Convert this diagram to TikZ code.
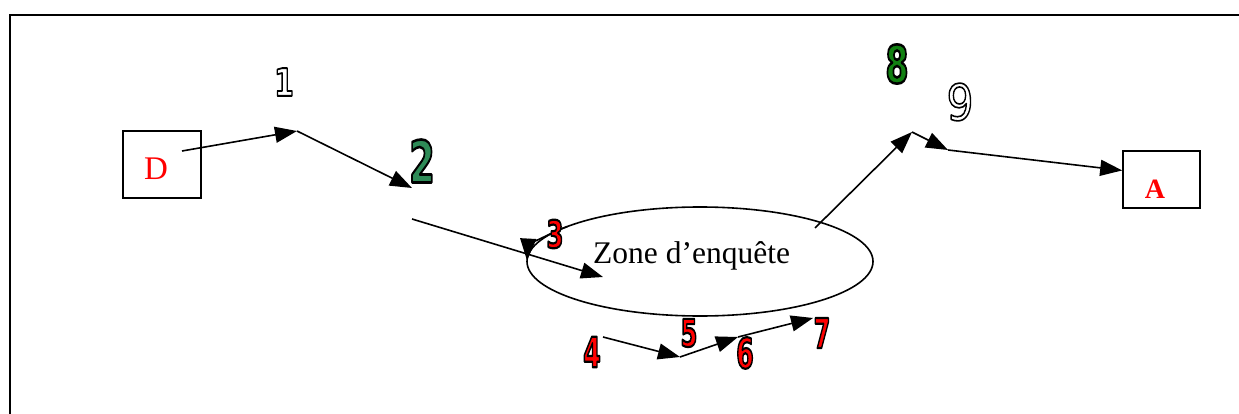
\documentclass[tikz,border=0pt]{standalone}
\usepackage{fontspec}
\setmainfont{Liberation Serif}
\newfontfamily\digfont{DejaVu Sans}
\usepackage{graphicx}
\usetikzlibrary{arrows.meta,shapes.geometric}
\definecolor{sgreen}{HTML}{2E8B57}
\definecolor{dgreen}{HTML}{118011}
% outlined digit: xscale, font size, outline width, text
\newcommand{\odig}[4]{\scalebox{#1}[1]{\fontsize{#2}{#2}\selectfont\special{pdf:code q 2 Tr #3 w 0 0 0 RG 1 j}#4\special{pdf:code Q}}}
\begin{document}
\begin{tikzpicture}[x=1pt,y=-1pt,
  arr/.style={line width=1.6pt, -{Triangle[length=22pt,width=16pt]}},
  boxst/.style={draw, line width=1.6pt, minimum width=78pt, minimum height=67pt, inner sep=0pt},
  bdig/.style={inner sep=0pt, font=\digfont\bfseries},
  ldig/.style={inner sep=0pt, font=\digfont, text=white},
  lbl/.style={inner sep=0pt, text=red}]
\useasboundingbox (0,0) rectangle (1239,414);
\draw[line width=2.8pt, line join=miter] (10,420) -- (10,15) -- (1245,15);

% boxes and ellipse
\node[boxst] (D) at (162,164.5) {};
\node[lbl, font=\fontsize{33}{33}\selectfont] (Dt) at (156,169) {D};
\node[boxst, minimum width=77pt, minimum height=57pt] (A) at (1161.5,179.5) {};
\node[lbl, font=\bfseries\fontsize{28}{28}\selectfont] (At) at (1155,189) {A};
\node[draw, ellipse, line width=1.6pt, minimum width=346pt, minimum height=109pt, inner sep=0pt] (Z) at (700,261.5) {};
\node[inner sep=0pt, anchor=base west, font=\fontsize{31.5}{31.5}\selectfont] (Zt) at (593,263) {Zone d’enquête};

% path points
\coordinate (p0) at (182,151);
\coordinate (p1) at (297,131);
\coordinate (p2) at (412,188);
\coordinate (q0) at (412,219);
\coordinate (q1) at (603,277);
\coordinate (r0) at (603,337);
\coordinate (r1) at (680,357);
\coordinate (r2) at (738,337);
\coordinate (r3) at (813,318);
\coordinate (s0) at (815,228);
\coordinate (s1) at (912,132);
\coordinate (s2) at (948,150);

\draw[arr] (p0) -- (p1);
\draw[arr] (p1) -- (p2);
\draw[arr] (q0) -- (q1);
\draw[arr] (Z.center) ++(220:173 and 54.5) arc[start angle=220, end angle=181, x radius=173, y radius=54.5];
\draw[arr] (r0) -- (r1);
\draw[arr] (r1) -- (r2);
\draw[arr] (r2) -- (r3);
\draw[arr] (s0) -- (s1);
\draw[arr] (s1) -- (s2);
\draw[arr] (s2) -- (A.167);

% digits
\node[bdig, text=white] (n1) at (284,82) {\odig{0.75}{38}{1.8}{1}};
\node[bdig, text=sgreen] (n2) at (422,161) {\odig{0.64}{58}{2.6}{2}};
\node[bdig, text=red] (n3) at (555,234) {\odig{0.64}{38}{2.2}{3}};
\node[bdig, text=red] (n4) at (592,352) {\odig{0.6}{42}{2.2}{4}};
\node[bdig, text=red] (n5) at (689,333) {\odig{0.64}{38}{2.2}{5}};
\node[bdig, text=red] (n6) at (745,353) {\odig{0.6}{42}{2.2}{6}};
\node[bdig, text=red] (n7) at (822,333) {\odig{0.58}{41}{2.2}{7}};
\node[bdig, text=dgreen] (n8) at (897,64) {\odig{0.64}{52}{2.6}{8}};
\node[ldig] (n9) at (960,102) {\odig{0.85}{50}{1.6}{9}};
\end{tikzpicture}
\end{document}
